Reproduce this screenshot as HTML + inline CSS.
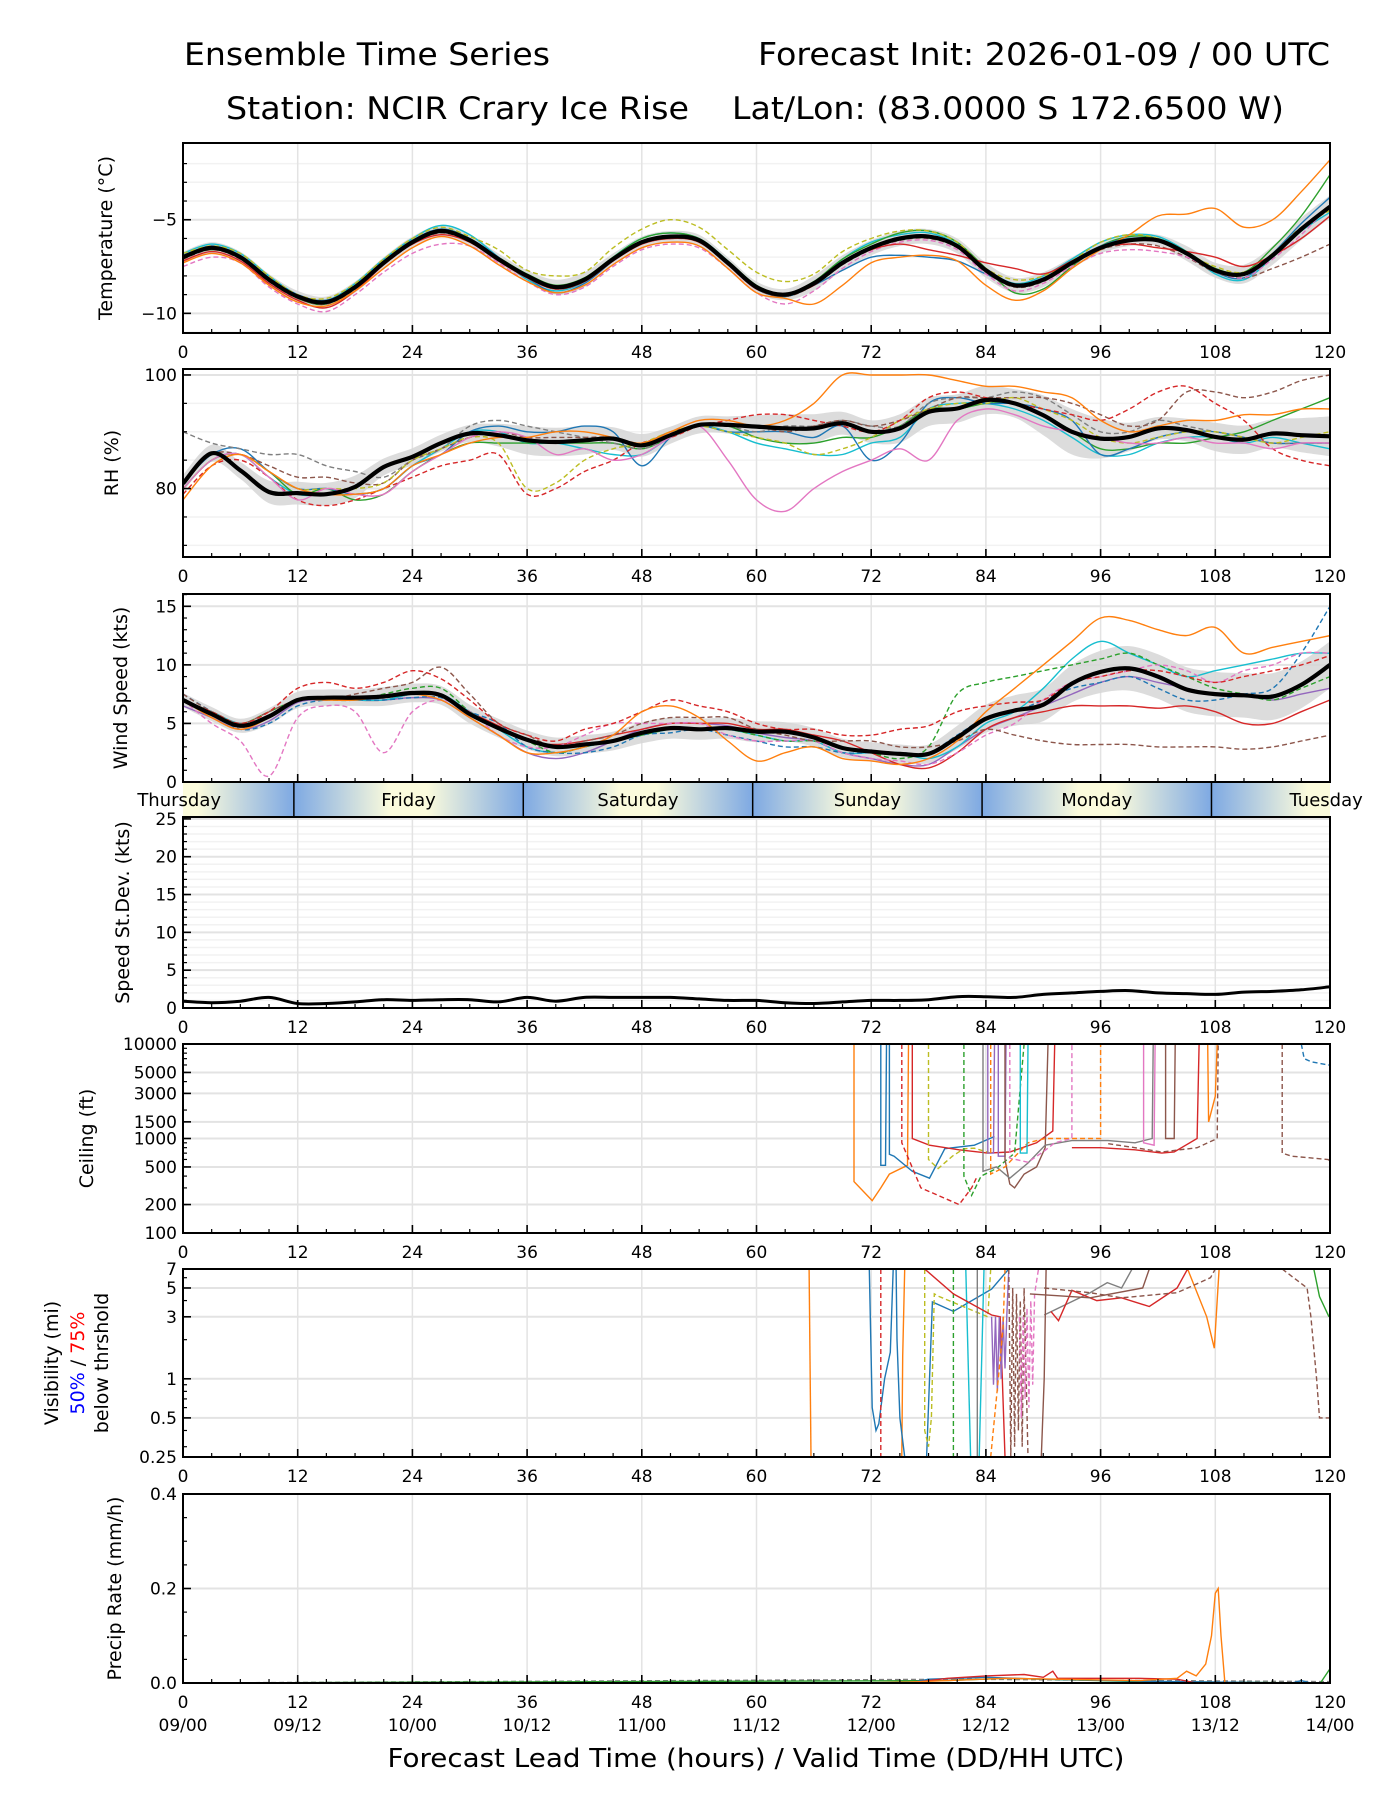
<!DOCTYPE html>
<html><head><meta charset="utf-8"><style>
html,body{margin:0;padding:0;background:#fff;}
svg{display:block;font-family:"DejaVu Sans","Liberation Sans",sans-serif;}
</style></head><body>
<svg id="chart" width="1400" height="1800" viewBox="0 0 1400 1800" xmlns="http://www.w3.org/2000/svg">
<defs>
<linearGradient id="dayGrad" x1="0" x2="1" y1="0" y2="0">
<stop offset="0" stop-color="#7ea9e3"/><stop offset="0.42" stop-color="#fbfbdc"/><stop offset="0.58" stop-color="#fbfbdc"/><stop offset="1" stop-color="#7ea9e3"/>
</linearGradient>
</defs>
<text x="184" y="65" font-size="31" textLength="366" lengthAdjust="spacingAndGlyphs">Ensemble Time Series</text>
<text x="1330" y="65" font-size="31" text-anchor="end" textLength="572" lengthAdjust="spacingAndGlyphs">Forecast Init: 2026-01-09 / 00 UTC</text>
<text x="226" y="119" font-size="31" textLength="463" lengthAdjust="spacingAndGlyphs">Station: NCIR Crary Ice Rise</text>
<text x="732" y="119" font-size="31" textLength="552" lengthAdjust="spacingAndGlyphs">Lat/Lon: (83.0000 S 172.6500 W)</text>
<g id="plots"></g>
<text x="756" y="1767" font-size="26" text-anchor="middle" textLength="737" lengthAdjust="spacingAndGlyphs">Forecast Lead Time (hours) / Valid Time (DD/HH UTC)</text>
</svg>
<script>
// ---------- data ----------
const HOURS=[0,3,6,9,12,15,18,21,24,27,30,33,36,39,42,45,48,51,54,57,60,63,66,69,72,75,78,81,84,87,90,93,96,99,102,105,108,111,114,117,120];
const XTICK_LABELS=['0','12','24','36','48','60','72','84','96','108','120'];
const DATE_LABELS=['09/00','09/12','10/00','10/12','11/00','11/12','12/00','12/12','13/00','13/12','14/00'];
const DAY_NAMES=['Thursday','Friday','Saturday','Sunday','Monday','Tuesday'];
const FIRST_MIDNIGHT=-12.4;

const tempMean=[-7.0,-6.5,-7.0,-8.2,-9.1,-9.4,-8.6,-7.3,-6.2,-5.6,-6.1,-7.1,-8.0,-8.6,-8.2,-7.1,-6.2,-5.9,-6.1,-7.3,-8.6,-9.0,-8.4,-7.3,-6.5,-6.0,-5.9,-6.4,-7.7,-8.5,-8.2,-7.3,-6.5,-6.1,-6.1,-6.8,-7.7,-7.9,-6.9,-5.5,-4.3];
const tempSpread=[0.3,0.3,0.3,0.3,0.3,0.3,0.3,0.3,0.3,0.3,0.3,0.3,0.3,0.4,0.4,0.3,0.3,0.3,0.3,0.3,0.3,0.3,0.4,0.4,0.4,0.4,0.4,0.4,0.4,0.4,0.4,0.3,0.3,0.3,0.3,0.4,0.4,0.5,0.5,0.6,0.6];
const tempOrange=[-7.3,-6.8,-7.3,-8.5,-9.4,-9.6,-8.8,-7.6,-6.5,-5.9,-6.4,-7.4,-8.3,-8.9,-8.5,-7.4,-6.5,-6.2,-6.4,-7.6,-8.9,-9.2,-9.5,-8.5,-7.3,-7.0,-6.9,-7.2,-8.5,-9.3,-8.8,-7.6,-6.6,-5.8,-4.8,-4.7,-4.4,-5.4,-5.0,-3.5,-1.8];
const tempRed=[-7.2,-6.7,-7.2,-8.4,-9.3,-9.7,-8.8,-7.4,-6.3,-5.8,-6.2,-7.2,-8.1,-8.7,-8.3,-7.2,-6.3,-6.0,-6.2,-7.4,-8.7,-9.0,-8.5,-7.3,-6.6,-6.3,-6.6,-6.9,-7.3,-7.6,-7.9,-7.2,-6.5,-6.3,-6.5,-6.7,-7.0,-7.5,-6.9,-6.0,-4.8];
const tempOlive=[-6.8,-6.4,-6.8,-8.0,-9.0,-9.2,-8.4,-7.1,-6.0,-5.4,-5.9,-6.6,-7.7,-8.0,-7.8,-6.5,-5.5,-5.0,-5.4,-6.6,-7.8,-8.3,-7.9,-6.7,-6.0,-5.6,-5.6,-6.2,-7.6,-8.2,-8.0,-7.2,-6.2,-5.8,-6.0,-6.8,-7.5,-7.8,-6.8,-5.4,-4.5];
const tempPink=[-7.5,-7.0,-7.3,-8.6,-9.5,-9.9,-9.0,-7.8,-6.8,-6.3,-6.4,-7.3,-8.3,-9.0,-8.6,-7.5,-6.6,-6.3,-6.5,-7.6,-8.9,-9.5,-8.8,-7.6,-6.7,-6.2,-6.1,-6.6,-7.9,-8.8,-8.4,-7.5,-6.8,-6.6,-6.7,-7.0,-7.7,-8.1,-7.1,-5.8,-4.2];
const tempBrown=[-7.1,-6.6,-7.1,-8.3,-9.2,-9.5,-8.7,-7.4,-6.3,-5.7,-6.2,-7.2,-8.1,-8.7,-8.3,-7.2,-6.3,-6.0,-6.2,-7.4,-8.7,-9.1,-8.5,-7.4,-6.6,-6.1,-6.0,-6.5,-7.8,-8.6,-8.3,-7.4,-6.6,-6.3,-6.4,-7.0,-7.8,-8.1,-7.6,-7.0,-6.3];
const tempBlue=[-6.9,-6.4,-6.9,-8.1,-9.0,-9.3,-8.5,-7.2,-6.1,-5.5,-6.0,-7.0,-8.1,-8.9,-8.4,-7.2,-6.2,-5.9,-6.2,-7.4,-8.7,-9.1,-8.5,-7.7,-7.0,-6.9,-7.0,-7.2,-7.9,-8.5,-8.1,-7.2,-6.4,-6.0,-6.1,-6.8,-7.8,-8.1,-6.8,-5.2,-3.8];
const tempGreen=[-7.0,-6.6,-7.0,-8.2,-9.2,-9.5,-8.6,-7.3,-6.2,-5.5,-6.0,-7.0,-7.9,-8.5,-8.1,-7.0,-6.0,-5.7,-6.0,-7.2,-8.5,-9.0,-8.3,-7.1,-6.3,-5.7,-5.6,-6.2,-7.6,-8.9,-8.7,-7.5,-6.4,-5.9,-6.0,-6.7,-7.6,-7.8,-6.5,-4.8,-2.6];
const tempCyan=[-6.8,-6.3,-6.8,-8.0,-9.0,-9.3,-8.4,-7.1,-6.0,-5.3,-5.8,-7.0,-8.2,-8.8,-8.3,-7.0,-6.0,-5.7,-6.0,-7.2,-8.6,-9.1,-8.4,-7.1,-6.2,-5.8,-5.7,-6.3,-7.6,-8.4,-8.0,-7.1,-6.2,-5.8,-5.9,-6.7,-7.9,-8.2,-7.0,-5.6,-4.6];

const rhMean=[80.9,86.2,83.2,79.4,79.2,79.0,80.3,83.8,85.6,88.0,89.7,89.4,88.5,88.2,88.5,88.8,87.6,89.4,91.2,91.2,90.9,90.6,90.6,91.5,90.0,90.6,93.5,94.1,95.6,95.0,92.9,90.0,88.8,89.1,90.6,90.3,89.1,88.6,89.7,89.4,89.2];
const rhSpread=[1.5,1.5,1.5,2.0,2.0,2.0,2.0,1.5,1.5,1.5,1.5,2.0,2.5,2.5,2.5,2.0,2.0,1.5,1.5,1.5,2.0,2.5,2.5,2.0,2.0,2.5,2.5,2.5,2.5,2.5,3.5,4.0,3.5,2.5,2.0,2.0,2.5,2.5,2.5,3.0,3.5];
const rhOrange=[78,84,86,83,80,79,79,80,84,86,88,89,89,90,90,89,88,90,92,92,91,92,95,100,100,100,100,99,98,98,97,96,92,90,91,92,92,93,93,94,94];
const rhPink=[80,85,86,82,78,80,79,79,83,86,89,90,89,86,87,85,86,89,91,85,78,76,80,83,85,87,85,92,94,93,91,90,89,88,88,89,88,88,87,88,88];
const rhRed=[79,84,85,82,78,77,78,80,82,84,85,86,79,80,83,85,88,89,91,92,93,93,92,91,90,92,96,97,96,95,94,93,92,94,97,98,95,92,87,85,84];
const rhOlive=[80,85,86,83,80,80,80,81,85,87,89,88,80,81,85,87,88,90,91,90,89,88,86,87,89,92,94,95,95,96,94,92,89,88,89,90,90,89,88,89,90];
const rhBrown=[81,86,86,84,82,82,81,81,85,87,89,90,89,89,89,89,88,90,91,91,91,90,91,92,91,92,94,96,96,96,96,95,93,91,92,97,97,96,97,99,100];
const rhBlue=[81,86,87,83,80,80,79,80,84,86,90,91,90,90,91,90,84,89,91,90,90,90,89,91,85,88,95,96,95,95,94,92,86,87,89,90,90,89,88,88,88];
const rhGray=[90,88,87,86,86,84,83,82,85,87,91,92,91,90,89,88,87,89,91,91,90,91,91,92,91,91,95,96,96,97,96,93,90,90,92,91,90,89,88,88,88];
const rhGreen=[80,85,86,83,79,80,78,79,83,86,88,88,88,88,88,88,87,89,91,91,89,88,88,89,89,91,94,94,95,95,93,90,87,87,88,88,89,90,92,94,96];
const rhCyan=[80,85,86,82,79,79,79,80,84,87,90,90,88,88,87,86,86,89,91,90,88,87,86,86,88,89,94,95,95,94,92,89,86,86,88,89,89,88,89,88,87];

const windMean=[7.0,5.8,4.8,5.6,7.0,7.2,7.2,7.3,7.6,7.4,5.8,4.6,3.6,3.0,3.2,3.5,4.2,4.6,4.5,4.6,4.3,4.3,3.8,2.9,2.6,2.4,2.4,3.8,5.4,6.1,6.6,8.4,9.4,9.7,9.0,7.9,7.5,7.4,7.3,8.3,10.0];
const windSpread=[0.6,0.6,0.6,0.7,0.7,0.7,0.7,0.8,0.8,0.8,0.8,0.8,0.8,0.8,0.8,0.8,0.9,0.9,0.9,0.9,0.9,0.8,0.8,0.8,0.8,0.8,0.8,1.0,1.2,1.3,1.4,1.6,1.8,1.9,1.9,1.9,1.9,1.9,2.0,2.0,2.0];
const windOrange=[7,5.5,4.5,5.5,7,7,7,7.3,7.5,7,5.5,4,2.5,2.5,3,4,6,6.5,5.5,3.5,1.8,2.5,3,2,1.8,1.5,2,3.5,6,8,10,12,14,13.8,13,12.5,13.2,11,11.5,12,12.5];
const windRedD=[7,6,5,6,8,8.5,8,8.5,9.5,8.8,7,5,4,3.5,4.5,5,6,7,6.5,6,5,4.5,4.5,4,4,4.5,4.8,6,6.5,6.8,7,8.5,9,9.5,9.5,9,8.5,9,9.5,10,10.8];
const windBrownD=[7.5,6,5,6,7,7,7.5,8,8.5,9.8,7.5,5,4,3,3.5,4,5,5.5,5.5,5.5,4.5,4,3.5,3.5,3.5,3,3,3.5,4.5,4,3.5,3.2,3.2,3.2,3,3,3,2.8,3,3.5,4];
const windPinkD=[7,5,3.5,0.5,5.5,6.5,6,2.5,6,7,6,4,3,3,4,5,5,5,5,4,3.5,3.5,3.5,2.5,2,1.8,1.5,2.5,4,5,7,8.5,9,9.5,10,9.5,8.5,9.5,10,11,11];
const windGreenD=[7,6,5,6,7,7,7,7.5,8,8,6,4.5,3.5,2.5,3,3.5,4,4.5,4.5,4.5,4,3.5,3.5,3,2.5,2,3,7.5,8.5,9,9.5,10,10.5,11,10,9,8,7.5,7,8,9];
const windBlueD=[7.5,6,4.5,5,6.5,7,7,7,7.2,7.2,6,5,3,2.5,2.5,3,4,4.2,4.5,4,3.5,3,3,2.5,2.5,2.5,2.5,4,5.5,6,7,8,8.5,9,8,7,7,7.5,8,11,15];
const windCyan=[7,6,5,5.5,7,7.2,7,7,7.5,7.5,6,4.5,3,2.5,3,3.5,4,4.5,4.5,4.5,4,3.5,3.5,2.5,2.5,2.5,2,3,5,6,8,10.5,12,11,10,9,9.5,10,10.5,11,11];
const windRed=[7,5.8,4.8,5.6,7,7.2,7,7,7.5,7.5,6,4.8,3.5,3.2,3.5,4,4.5,5,5,5,4.5,4.5,4,3.5,2.5,1.5,1.2,2.5,4.5,5.5,6,6.5,6.5,6.5,6.3,6.5,6,5,5,6,7];
const windPurple=[6.5,5.5,4.5,5.2,6.8,7,7,7,7.2,7,5.5,4,2.5,2,2.5,3.5,4.5,5,5,4.8,4.2,3.8,3.5,2.5,2,1.5,1.5,3,4.5,5.5,6.5,7.5,8.5,9,8.5,8,7.5,7.5,7,7.5,8];

const sdMean=[0.9,0.7,0.9,1.4,0.6,0.6,0.8,1.1,1.0,1.1,1.1,0.8,1.4,0.9,1.4,1.4,1.4,1.4,1.2,1.0,1.0,0.7,0.6,0.8,1.0,1.0,1.1,1.5,1.5,1.4,1.8,2.0,2.2,2.3,2.0,1.9,1.8,2.1,2.2,2.4,2.8];

const ceilOrange=[[70.2,10000],[70.2,350],[72.1,220],[73.0,300],[73.9,420],[75.8,520],[75.9,10000]];
const ceilBlue=[[73.0,10000],[73.0,520],[73.5,520],[73.6,10000],[73.9,10000],[73.9,680],[74.4,650],[76.3,450],[78.1,380],[79.7,780],[82.8,850],[84.9,1050]];
const ceilRedD=[[75.2,10000],[75.2,900],[77.2,300],[79.0,250],[81.2,200],[82.5,300],[83.0,380]];
const ceilRed=[[76.3,10000],[76.3,1000],[78.1,850],[81.2,760],[84.2,700],[86.5,720],[89.3,900],[91.0,1200],[91.2,10000]];
const ceilOliveD=[[78.0,10000],[78.0,600],[79.0,480],[80.5,650],[81.7,780],[82.8,790],[84.5,700]];
const ceilGreenD=[[81.7,10000],[81.7,400],[82.5,250],[83.5,400],[85.1,480],[87.0,700],[88.0,10000]];
const ceilPurple=[[84.2,10000],[84.2,700],[84.8,700],[84.9,10000],[85.3,10000],[85.3,650],[86.0,650],[86.1,10000]];
const ceilBrown=[[86.0,10000],[86.0,600],[86.5,330],[87.0,300],[88.0,420],[89.3,500],[90.2,800],[90.5,10000]];
const ceilGray=[[83.7,10000],[83.7,450],[85.1,500],[86.5,380],[88.4,550],[90.2,850],[93.0,950],[96.8,950],[99.6,900],[101.4,1000],[101.5,10000]];
const ceilOrangeD=[[84.5,10000],[84.5,420],[86.0,500],[88.4,900],[90.2,1000],[93.0,1000],[96.0,1000],[96.0,10000]];
const ceilPinkD=[[86.5,10000],[86.5,620],[88.4,560],[90.2,750],[91.2,900],[93.0,1000],[93.0,10000]];
const ceilPink2=[[100.5,10000],[100.5,900],[101.6,850],[101.7,10000]];
const ceilBrownD=[[96.8,880],[99.6,800],[102.4,720],[106.1,800],[108.2,1000],[108.3,10000]];
const ceilRed2=[[93.0,800],[96.0,800],[99.6,760],[102.4,700],[103.7,720],[106.1,1000],[106.3,10000]];
const ceilBrown2=[[102.8,10000],[102.8,1000],[103.7,1000],[103.8,10000]];
const ceilOrange2=[[107.2,10000],[107.3,1500],[108.0,2800],[108.2,10000]];
const ceilBrownD2=[[115.0,10000],[115.0,700],[116.0,650],[119.8,600],[120,580]];
const ceilBlueD=[[117.0,10000],[117.3,7000],[118.0,6500],[119.8,6000],[120,6000]];
const ceilCyan=[[87.6,10000],[87.6,700],[88.3,700],[88.4,10000]];

const visOrange=[[65.5,7],[65.7,0.25]];
const visOrange2=[[75.2,0.25],[75.3,1.5],[75.5,7]];
const visOrange3=[[105.1,7],[107.1,3],[107.9,1.72],[108.4,7]];
const visBlue=[[71.8,7],[72.1,0.6],[72.5,0.4],[72.8,0.45],[73.4,1.0],[74.0,1.6],[74.3,7]];
const visBlue2=[[74.6,7],[74.7,2.0],[75.0,0.5],[75.5,0.25]];
const visBlue3=[[77.8,0.25],[78.4,3.9],[80.6,3.3],[84.6,4.9],[86.4,7]];
const visRedD=[[73.0,7],[73.0,0.25]];
const visOliveD=[[77.6,7],[77.6,0.4],[78.0,0.3],[78.3,0.5],[78.6,4.5],[79.1,4.3],[84.2,3.0],[84.5,7]];
const visGreenD=[[80.6,7],[80.6,0.25]];
const visCyan=[[81.9,7],[82.4,0.25]];
const visCyan2=[[83.3,0.25],[83.8,7]];
const visGray=[[83.1,7],[83.1,0.25]];
const visGray2=[[90.1,3.1],[94.9,4.6],[96.7,5.5],[98.2,5.0],[99.3,7]];
const visRed=[[77.6,7],[80.6,4.5],[84.6,3.1],[85.5,3.0],[86.0,0.25]];
const visRed2=[[90.8,3.3],[91.6,2.8],[93.0,4.8],[95.6,4.0],[98.2,4.2],[101.1,3.6],[104.0,5],[105.1,7]];
const visPurple=[[84.6,3],[84.8,0.9],[85.0,3],[85.2,0.8],[85.4,3],[85.6,1],[85.8,3],[86.0,1.2],[86.2,3.2],[86.4,7]];
const visBrownD=[[86.4,7],[86.6,0.25],[86.8,5],[87.0,0.3],[87.2,4.5],[87.4,0.4],[87.6,4],[87.8,0.3],[88.0,5],[88.4,0.25]];
const visBrownD2=[[90.1,5],[94.9,4.6],[98.2,4.2],[104.0,4.6],[107.5,6],[108.0,7]];
const visPink=[[87.5,3],[87.7,0.5],[87.9,3],[88.1,0.7],[88.3,3.5],[88.5,0.6],[88.7,4],[88.9,0.9],[89.1,4.5],[89.5,7]];
const visOrangeD=[[84.5,0.25],[85.0,0.6],[85.4,1.2],[85.8,2.5],[86.0,7]];
const visBrown=[[88.6,4.5],[94.9,4.2],[100.4,5],[101.1,7]];
const visBrown2=[[89.8,0.25],[90.1,1],[90.3,7]];
const visBrownD3=[[115.0,7],[117.6,5],[118.0,3],[118.6,1],[118.9,0.5],[120,0.5]];
const visGreen=[[118.3,7],[118.9,4.3],[119.9,3]];

const prOrange=[[0,0],[70,0],[76,0.002],[86,0.01],[100,0.005],[104,0.01],[105,0.025],[106,0.015],[107,0.04],[107.6,0.1],[108,0.19],[108.3,0.2],[108.6,0.1],[109,0],[120,0]];
const prRed=[[0,0],[76,0],[80,0.01],[84,0.015],[88,0.018],[90,0.012],[91,0.025],[91.5,0.01],[96,0.01],[100,0.01],[104,0.008],[106,0],[120,0]];
const prBlue=[[0,0],[76,0],[78,0.008],[84,0.012],[90,0.008],[100,0.004],[116,0],[117,0.005],[118,0],[120,0]];
const prGreen=[[0,0],[80,0.005],[86,0.01],[100,0.003],[119,0],[120,0.03]];
const prGray=[[0,0],[82,0.008],[96,0.006],[120,0.003]];

// ---------- drawing ----------
const NS='http://www.w3.org/2000/svg';
const root=document.getElementById('plots');
const X0=183,X1=1330;
function xs(h){return X0+(X1-X0)*h/120;}
function mk(tag,attrs,parent){const e=document.createElementNS(NS,tag);for(const k in attrs)e.setAttribute(k,attrs[k]);(parent||root).appendChild(e);return e;}
function ys(p,v){
  if(p.log){const a=Math.log10(p.ymin),b=Math.log10(p.ymax);return p.bot-(Math.log10(v)-a)/(b-a)*(p.bot-p.top);}
  return p.bot-(v-p.ymin)/(p.ymax-p.ymin)*(p.bot-p.top);
}
function smooth(pts){
  let d='M'+pts[0][0].toFixed(1)+','+pts[0][1].toFixed(1);
  for(let i=0;i<pts.length-1;i++){
    const p0=pts[Math.max(0,i-1)],p1=pts[i],p2=pts[i+1],p3=pts[Math.min(pts.length-1,i+2)];
    const c1x=p1[0]+(p2[0]-p0[0])/6,c1y=p1[1]+(p2[1]-p0[1])/6,c2x=p2[0]-(p3[0]-p1[0])/6,c2y=p2[1]-(p3[1]-p1[1])/6;
    d+=' C'+c1x.toFixed(1)+','+c1y.toFixed(1)+' '+c2x.toFixed(1)+','+c2y.toFixed(1)+' '+p2[0].toFixed(1)+','+p2[1].toFixed(1);
  }
  return d;
}
function linear(pts){return 'M'+pts.map(q=>q[0].toFixed(1)+','+q[1].toFixed(1)).join(' L');}

const C={blue:'#1f77b4',orange:'#ff7f0e',green:'#2ca02c',red:'#d62728',purple:'#9467bd',brown:'#8c564b',pink:'#e377c2',gray:'#7f7f7f',olive:'#bcbd22',cyan:'#17becf'};

function panel(p){
  const g=mk('g',{});
  
  
  const cid='clip-'+p.name;
  const cp=mk('clipPath',{id:cid},g);mk('rect',{x:X0,y:p.top,width:X1-X0,height:p.bot-p.top},cp);
  (p.minorGrid||[]).forEach(v=>{const l=mk('line',{x1:X0,x2:X1,y1:ys(p,v),y2:ys(p,v),stroke:'#f2f2f2','stroke-width':1.5},g);
    });
  p.grid.forEach(v=>{const l=mk('line',{x1:X0,x2:X1,y1:ys(p,v),y2:ys(p,v),stroke:'#e3e3e3','stroke-width':2},g);
    });
  for(let h=12;h<120;h+=12){const l=mk('line',{x1:xs(h),x2:xs(h),y1:p.top,y2:p.bot,stroke:'#e3e3e3','stroke-width':1.5},g);
    }
  const sg=mk('g',{'clip-path':'url(#'+cid+')'},g);
  p.series=sg;
  const fr=mk('rect',{x:X0,y:p.top,width:X1-X0,height:p.bot-p.top,fill:'none',stroke:'#000','stroke-width':2},g);
  
  for(let h=0;h<=120;h+=3){const major=h%12===0;
    const t=mk('line',{x1:xs(h),x2:xs(h),y1:p.bot,y2:p.bot-(major?8:4),stroke:'#000','stroke-width':major?1.6:1.2},g);
    }
  if(p.xlabels){XTICK_LABELS.forEach((s,i)=>{const t=mk('text',{x:xs(i*12),y:p.bot+25,'font-size':17,'text-anchor':'middle'},g);t.textContent=s;
    });}
  (p.minorTicks||[]).forEach(v=>{const t=mk('line',{x1:X0,x2:X0+4,y1:ys(p,v),y2:ys(p,v),stroke:'#000','stroke-width':1.2},g);
    });
  p.ticks.forEach((v,i)=>{const y=ys(p,v);
    const t=mk('line',{x1:X0,x2:X0+8,y1:y,y2:y,stroke:'#000','stroke-width':1.6},g);
    
    const tx=mk('text',{x:X0-6,y:y+6,'font-size':17,'text-anchor':'end'},g);tx.textContent=p.tickLabels[i];
    });
  if(p.ylabel){const cy=(p.top+p.bot)/2;
    const t=mk('text',{x:p.ylx,y:cy,'font-size':19,'text-anchor':'middle',transform:'rotate(-90 '+p.ylx+' '+cy+')','dominant-baseline':'central'},g);
    t.textContent=p.ylabel;}
  return p;
}
function band(p,mean,spread){
  const up=HOURS.map((h,i)=>[xs(h),ys(p,mean[i]+spread[i])]);
  const lo=HOURS.map((h,i)=>[xs(h),ys(p,mean[i]-spread[i])]).reverse();
  const d=smooth(up)+' L'+smooth(lo).slice(1)+' Z';
  const e=mk('path',{d:d,fill:'#d6d6d6',stroke:'none',opacity:0.85},p.series);
  
}
function member(p,vals,color,dash,name){
  const pts=HOURS.map((h,i)=>[xs(h),ys(p,vals[i])]);
  const e=mk('path',{d:smooth(pts),fill:'none',stroke:color,'stroke-width':1.4,'stroke-dasharray':dash?'5,3':'none'},p.series);
  
}
function meanLine(p,vals,name){
  const pts=HOURS.map((h,i)=>[xs(h),ys(p,vals[i])]);
  const e=mk('path',{d:smooth(pts),fill:'none',stroke:'#000','stroke-width':4.2,'stroke-linejoin':'round'},p.series);
  
}
function pairLine(p,pairs,color,dash,name){
  const pts=pairs.map(q=>[xs(q[0]),ys(p,q[1])]);
  const e=mk('path',{d:linear(pts),fill:'none',stroke:color,'stroke-width':1.4,'stroke-dasharray':dash?'5,3':'none'},p.series);
  
}
function range(a,b,s){const r=[];for(let v=a;v<=b+1e-9;v+=s)r.push(+v.toFixed(3));return r;}

const pT=panel({name:'temperature',top:143,bot:333,ymin:-11.05,ymax:-0.9,grid:[-5,-10],minorGrid:[-2,-3,-4,-6,-7,-8,-9,-11],ticks:[-5,-10],tickLabels:['−5','−10'],minorTicks:[-2,-3,-4,-6,-7,-8,-9],xlabels:true,ylabel:'Temperature (°C)',ylx:106});
band(pT,tempMean,tempSpread);
member(pT,tempCyan,C.cyan,false,'temp-member-cyan');
member(pT,tempGreen,C.green,false,'temp-member-green');
member(pT,tempBlue,C.blue,false,'temp-member-blue');
member(pT,tempBrown,C.brown,true,'temp-member-brown');
member(pT,tempPink,C.pink,true,'temp-member-pink');
member(pT,tempOlive,C.olive,true,'temp-member-olive');
member(pT,tempRed,C.red,false,'temp-member-red');
member(pT,tempOrange,C.orange,false,'temp-member-orange');
meanLine(pT,tempMean,'temp-ensemble-mean');

const pR=panel({name:'rh',top:369,bot:557,ymin:67.95,ymax:101.05,grid:[80,100],minorGrid:[70,75,85,90,95],ticks:[80,100],tickLabels:['80','100'],minorTicks:[70,75,85,90,95],xlabels:true,ylabel:'RH (%)',ylx:112});
band(pR,rhMean,rhSpread);
member(pR,rhCyan,C.cyan,false,'rh-member-cyan');
member(pR,rhGreen,C.green,false,'rh-member-green');
member(pR,rhBlue,C.blue,false,'rh-member-blue');
member(pR,rhGray,C.gray,true,'rh-member-gray');
member(pR,rhBrown,C.brown,true,'rh-member-brown');
member(pR,rhOlive,C.olive,true,'rh-member-olive');
member(pR,rhRed,C.red,true,'rh-member-red');
member(pR,rhPink,C.pink,false,'rh-member-pink');
member(pR,rhOrange,C.orange,false,'rh-member-orange');
meanLine(pR,rhMean,'rh-ensemble-mean');

const pW=panel({name:'wind',top:594,bot:782,ymin:0,ymax:16.05,grid:[5,10,15],ticks:[0,5,10,15],tickLabels:['0','5','10','15'],minorTicks:range(1,16,1),xlabels:false,ylabel:'Wind Speed (kts)',ylx:121});
band(pW,windMean,windSpread);
member(pW,windPurple,C.purple,false,'wind-member-purple');
member(pW,windRed,C.red,false,'wind-member-red');
member(pW,windCyan,C.cyan,false,'wind-member-cyan');
member(pW,windBlueD,C.blue,true,'wind-member-blue');
member(pW,windGreenD,C.green,true,'wind-member-green');
member(pW,windPinkD,C.pink,true,'wind-member-pink');
member(pW,windBrownD,C.brown,true,'wind-member-brown');
member(pW,windRedD,C.red,true,'wind-member-red-dashed');
member(pW,windOrange,C.orange,false,'wind-member-orange');
meanLine(pW,windMean,'wind-ensemble-mean');

(function(){
  const top=783,bot=817;
  const g=mk('g',{});
  
  const cp=mk('clipPath',{id:'clip-day'},g);mk('rect',{x:X0,y:top,width:X1-X0,height:bot-top},cp);
  const cg=mk('g',{'clip-path':'url(#clip-day)'},g);
  for(let k=0;k<DAY_NAMES.length;k++){
    const a=FIRST_MIDNIGHT+24*k;
    const r=mk('rect',{x:xs(a),y:top,width:xs(a+24)-xs(a),height:bot-top,fill:'url(#dayGrad)'},cg);
    
    if(k>0){const l=mk('line',{x1:xs(a),x2:xs(a),y1:top,y2:bot,stroke:'#000','stroke-width':1.5},cg);
      }
  }
  DAY_NAMES.forEach((d,k)=>{const t=mk('text',{x:xs(FIRST_MIDNIGHT+12+24*k),y:(top+bot)/2+6,'font-size':18,'text-anchor':'middle'},g);t.textContent=d;
    });
})();

const pS=panel({name:'stdev',top:817,bot:1008,ymin:0,ymax:25.25,grid:[5,10,15,20,25],minorGrid:range(1,24,1),ticks:[0,5,10,15,20,25],tickLabels:['0','5','10','15','20','25'],minorTicks:range(1,25,1),xlabels:true,ylabel:'Speed St.Dev. (kts)',ylx:123});
(function(){const pts=HOURS.map((h,i)=>[xs(h),ys(pS,sdMean[i])]);
  const e=mk('path',{d:smooth(pts),fill:'none',stroke:'#000','stroke-width':3},pS.series);
  })();

const ceilMinor=[];[100,1000].forEach(b=>{for(let m=2;m<=9;m++)ceilMinor.push(b*m);});
const pC=panel({name:'ceiling',top:1044,bot:1233,log:true,ymin:100,ymax:10000,grid:[200,500,1000,1500,3000,5000],ticks:[100,200,500,1000,1500,3000,5000,10000],tickLabels:['100','200','500','1000','1500','3000','5000','10000'],minorTicks:ceilMinor,xlabels:true,ylabel:'Ceiling (ft)',ylx:87});
pairLine(pC,ceilOrange,C.orange,false,'ceiling-orange');
pairLine(pC,ceilBlue,C.blue,false,'ceiling-blue');
pairLine(pC,ceilRedD,C.red,true,'ceiling-red-dashed');
pairLine(pC,ceilRed,C.red,false,'ceiling-red');
pairLine(pC,ceilOliveD,C.olive,true,'ceiling-olive');
pairLine(pC,ceilGreenD,C.green,true,'ceiling-green');
pairLine(pC,ceilPurple,C.purple,false,'ceiling-purple');
pairLine(pC,ceilBrown,C.brown,false,'ceiling-brown');
pairLine(pC,ceilGray,C.gray,false,'ceiling-gray');
pairLine(pC,ceilOrangeD,C.orange,true,'ceiling-orange-dashed');
pairLine(pC,ceilPinkD,C.pink,true,'ceiling-pink');
pairLine(pC,ceilPink2,C.pink,false,'ceiling-pink-2');
pairLine(pC,ceilBrownD,C.brown,true,'ceiling-brown-dashed');
pairLine(pC,ceilRed2,C.red,false,'ceiling-red-2');
pairLine(pC,ceilBrown2,C.brown,false,'ceiling-brown-2');
pairLine(pC,ceilOrange2,C.orange,false,'ceiling-orange-2');
pairLine(pC,ceilBrownD2,C.brown,true,'ceiling-brown-dashed-2');
pairLine(pC,ceilBlueD,C.blue,true,'ceiling-blue-dashed');
pairLine(pC,ceilCyan,C.cyan,false,'ceiling-cyan');

const pV=panel({name:'visibility',top:1269,bot:1457,log:true,ymin:0.25,ymax:7,grid:[0.5,1,3,5],ticks:[0.25,0.5,1,3,5,7],tickLabels:['0.25','0.5','1','3','5','7'],minorTicks:[0.3,0.4,0.6,0.7,0.8,0.9,2,4,6],xlabels:true});
pairLine(pV,visOrange,C.orange,false,'vis-orange');
pairLine(pV,visOrange2,C.orange,false,'vis-orange-2');
pairLine(pV,visOrange3,C.orange,false,'vis-orange-3');
pairLine(pV,visBlue,C.blue,false,'vis-blue');
pairLine(pV,visBlue2,C.blue,false,'vis-blue-2');
pairLine(pV,visBlue3,C.blue,false,'vis-blue-3');
pairLine(pV,visRedD,C.red,true,'vis-red-dashed');
pairLine(pV,visOliveD,C.olive,true,'vis-olive');
pairLine(pV,visGreenD,C.green,true,'vis-green-dashed');
pairLine(pV,visCyan,C.cyan,false,'vis-cyan');
pairLine(pV,visCyan2,C.cyan,false,'vis-cyan-2');
pairLine(pV,visGray,C.gray,false,'vis-gray');
pairLine(pV,visGray2,C.gray,false,'vis-gray-2');
pairLine(pV,visRed,C.red,false,'vis-red');
pairLine(pV,visRed2,C.red,false,'vis-red-2');
pairLine(pV,visPurple,C.purple,false,'vis-purple');
pairLine(pV,visBrownD,C.brown,true,'vis-brown-dashed');
pairLine(pV,visBrownD2,C.brown,true,'vis-brown-dashed-2');
pairLine(pV,visPink,C.pink,true,'vis-pink');
pairLine(pV,visOrangeD,C.orange,true,'vis-orange-dashed');
pairLine(pV,visBrown,C.brown,false,'vis-brown');
pairLine(pV,visBrown2,C.brown,false,'vis-brown-2');
pairLine(pV,visBrownD3,C.brown,true,'vis-brown-dashed-3');
pairLine(pV,visGreen,C.green,false,'vis-green');
(function(){
  const cy=(1269+1457)/2;
  const l1=mk('text',{x:52,y:cy,'font-size':19,'text-anchor':'middle','dominant-baseline':'central',transform:'rotate(-90 52 '+cy+')'});
  l1.textContent='Visibility (mi)';
  const l2=mk('text',{x:78,y:cy,'font-size':19,'text-anchor':'middle','dominant-baseline':'central',transform:'rotate(-90 78 '+cy+')'});
  
  const s1=mk('tspan',{fill:'#0000ff'},l2);s1.textContent='50%';
  const s2=mk('tspan',{fill:'#000'},l2);s2.textContent=' / ';
  const s3=mk('tspan',{fill:'#ff0000'},l2);s3.textContent='75%';
  const l3=mk('text',{x:102,y:cy,'font-size':19,'text-anchor':'middle','dominant-baseline':'central',transform:'rotate(-90 102 '+cy+')'});
  l3.textContent='below thrshold';
})();

const pP=panel({name:'precip',top:1494,bot:1683,ymin:0,ymax:0.4,grid:[0.2],ticks:[0,0.2,0.4],tickLabels:['0.0','0.2','0.4'],minorTicks:[0.05,0.1,0.15,0.25,0.3,0.35],xlabels:true,ylabel:'Precip Rate (mm/h)',ylx:115});
pairLine(pP,prGray,C.gray,true,'precip-gray');
pairLine(pP,prGreen,C.green,false,'precip-green');
pairLine(pP,prBlue,C.blue,false,'precip-blue');
pairLine(pP,prRed,C.red,false,'precip-red');
pairLine(pP,prOrange,C.orange,false,'precip-orange');
DATE_LABELS.forEach((s,i)=>{const t=mk('text',{x:xs(i*12),y:1731,'font-size':17,'text-anchor':'middle'});t.textContent=s;
  });
</script>
</body></html>
